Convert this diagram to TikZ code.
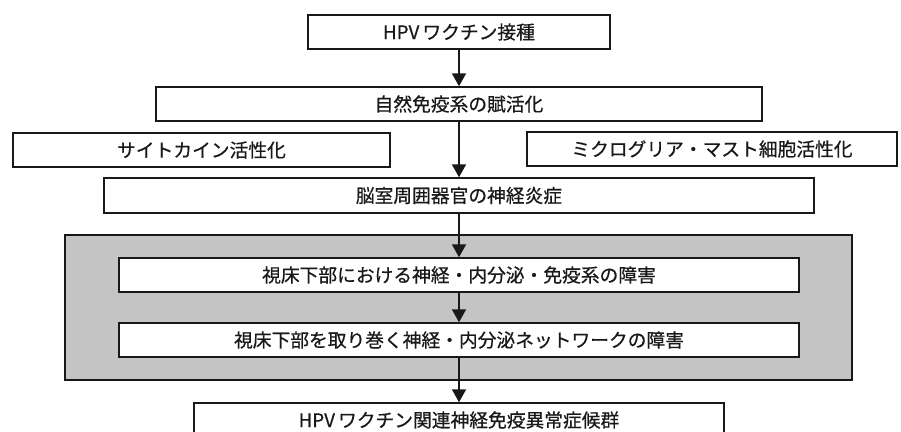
\documentclass[tikz,border=0pt]{standalone}
\usepackage{fontspec}
\newfontfamily\jp[FakeBold=0.6]{Noto Sans CJK JP}
\usetikzlibrary{arrows.meta}
\definecolor{zonegray}{RGB}{196,196,196}
\definecolor{ink}{RGB}{25,25,25}
\newcommand\pxu{0.03cm}
\tikzset{
  box/.style={draw=ink, line width=1.1pt, fill=white, inner sep=0pt,
    font=\jp\fontsize{16}{18}\selectfont, text=ink, align=center},
  zone/.style={draw=ink, line width=1.1pt, fill=zonegray},
  flow/.style={draw=ink, line width=2.4pt, -{Triangle[width=11.5pt,length=11pt]}}
}
\begin{document}
\begin{tikzpicture}[x=0.03cm,y=-0.03cm]
\useasboundingbox (0,0) rectangle (901,432);
\fill[white] (0,0) rectangle (901,432);
\draw[zone] (65,235) rectangle (852,380);
\node[box, minimum width=302*\pxu, minimum height=34*\pxu] (b1) at (459,32) {HPV\,ワクチン接種};
\node[box, minimum width=606*\pxu, minimum height=34*\pxu] (b2) at (459,104) {自然免疫系の賦活化};
\node[box, minimum width=377*\pxu, minimum height=34*\pxu] (b3) at (201.5,150) {サイトカイン活性化};
\node[box, minimum width=370*\pxu, minimum height=34*\pxu] (b4) at (712,149) {ミクログリア・マスト細胞活性化};
\node[box, minimum width=710*\pxu, minimum height=35*\pxu] (b5) at (459,195.5) {脳室周囲器官の神経炎症};
\node[box, minimum width=680*\pxu, minimum height=34*\pxu] (b7) at (459,275) {視床下部における神経・内分泌・免疫系の障害};
\node[box, minimum width=680*\pxu, minimum height=34*\pxu] (b8) at (459,340) {視床下部を取り巻く神経・内分泌ネットワークの障害};
\node[box, minimum width=530*\pxu, minimum height=34*\pxu] (b9) at (459,420) {HPV\,ワクチン関連神経免疫異常症候群};
\draw[flow] (b1.south) -- (b2.north);
\draw[flow] (b2.south) -- (b5.north);
\draw[flow] (b5.south) -- (b7.north);
\draw[flow] (b7.south) -- (b8.north);
\draw[flow] (b8.south) -- (b9.north);
\end{tikzpicture}
\end{document}
